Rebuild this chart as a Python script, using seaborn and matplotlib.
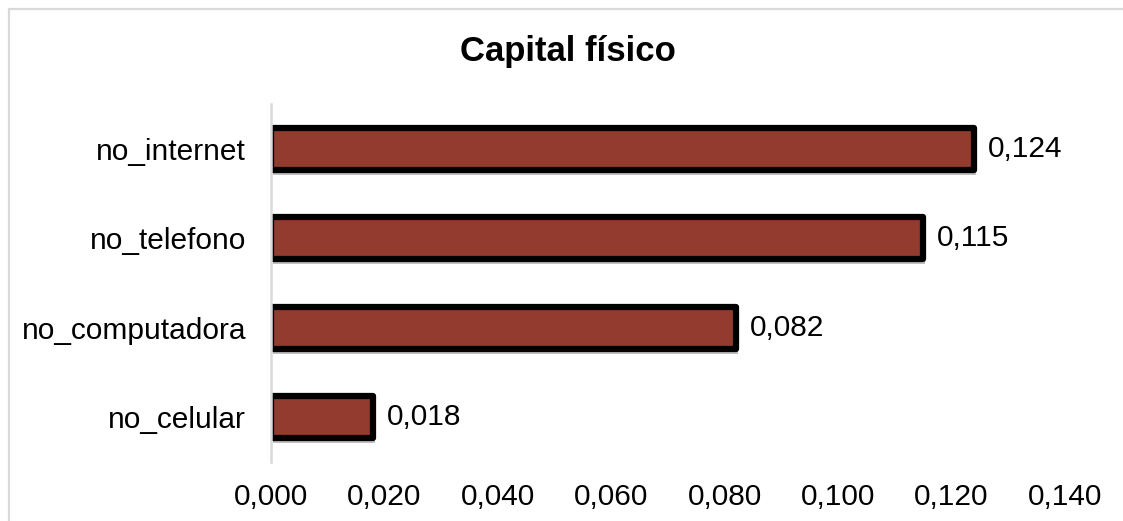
import matplotlib
matplotlib.use("Agg")
import matplotlib.pyplot as plt
import matplotlib.patheffects as pe
from matplotlib.lines import Line2D
import seaborn as sns
import pandas as pd

categories = ["no_internet", "no_telefono", "no_computadora", "no_celular"]
values = [0.124, 0.115, 0.082, 0.018]
xticks = [0.000, 0.020, 0.040, 0.060, 0.080, 0.100, 0.120, 0.140]

df = pd.DataFrame({"variable": categories, "valor": values})

sns.set_theme(style="white")
plt.rcParams["font.family"] = ["Liberation Sans", "DejaVu Sans"]

W, H = 1123, 521
fig = plt.figure(figsize=(W / 100, H / 100), dpi=100)
ax = fig.add_axes([271 / W, 1 - 462 / H, (1065 - 271) / W, (462 - 104) / H])

sns.barplot(data=df, x="valor", y="variable", orient="h", ax=ax,
            color="#933B2E", saturation=1, width=0.47,
            edgecolor="black", linewidth=4.5)

for bar in ax.patches:
    bar.set_joinstyle("round")
    bar.set_path_effects([
        pe.SimplePatchShadow(offset=(1.5, -3.5), shadow_rgbFace="#808080", alpha=0.5),
        pe.Normal(),
    ])

for bar, v in zip(ax.patches, values):
    y = bar.get_y() + bar.get_height() / 2
    ax.annotate(f"{v:.3f}".replace(".", ","), xy=(v, y), xytext=(14, 0),
                textcoords="offset pixels", va="center", ha="left",
                fontsize=21.5, color="black")

ax.set_xlim(0, 0.14)
ax.set_ylim(3.5, -0.5)
ax.set_xticks(xticks)
ax.set_xticklabels([f"{t:.3f}".replace(".", ",") for t in xticks])
ax.tick_params(axis="x", length=0, pad=15, labelsize=21.5, colors="black")
ax.tick_params(axis="y", length=0, pad=18, labelsize=21.5, colors="black")
ax.set_xlabel("")
ax.set_ylabel("")
for side in ["top", "right", "bottom"]:
    ax.spines[side].set_visible(False)
ax.spines["left"].set_color("#d9d9d9")
ax.spines["left"].set_linewidth(1.8)

fig.text(568 / W, 1 - 52 / H, "Capital físico", ha="center", va="center",
         fontsize=25, fontweight="bold", color="black")

# chart-area frame (left and top edges)
fig.add_artist(Line2D([8.5 / W, 8.5 / W], [0, 1 - 9 / H], transform=fig.transFigure,
                      color="#d9d9d9", linewidth=1.6))
fig.add_artist(Line2D([8.5 / W, 1], [1 - 9 / H, 1 - 9 / H], transform=fig.transFigure,
                      color="#d9d9d9", linewidth=1.6))

fig.savefig("out.png", dpi=100, facecolor="white")
